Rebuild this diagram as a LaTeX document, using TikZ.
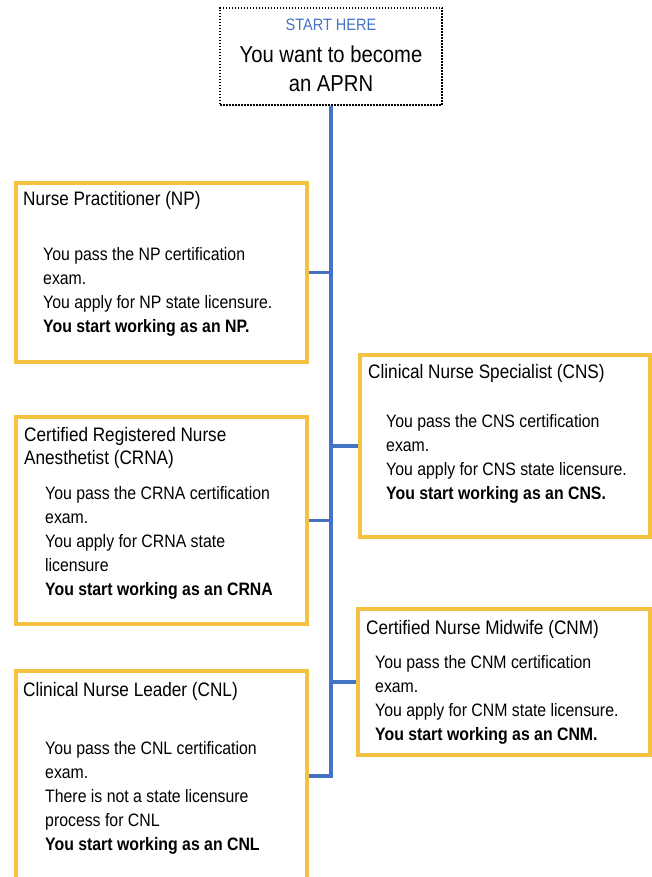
\documentclass[tikz,border=0pt]{standalone}
\usepackage{fontspec}
\setmainfont[FakeStretch=0.88]{Liberation Sans}
\usepackage{xcolor}
\definecolor{APRN-gul}{HTML}{F4C243}
\definecolor{APRN-blaa}{HTML}{4472C4}
\usetikzlibrary{positioning}

\tikzset{
  rolle/.style={draw=APRN-gul,line width=3.8pt,anchor=north west,minimum width=291pt,inner sep=0pt},
  startboks/.style={draw=black,dash pattern=on 1.5pt off 1.5pt,line width=1.4pt,minimum width=222pt,minimum height=97pt,inner sep=0pt},
  titel/.style={anchor=north west,align=left,inner sep=0pt,font=\fontsize{19.5}{23}\selectfont},
  trin/.style={anchor=north west,align=left,inner sep=0pt,font=\fontsize{18}{24}\selectfont},
  gren/.style={draw=APRN-blaa,line width=3.5pt}
}

\begin{document}
\begin{tikzpicture}[x=1pt,y=-1pt]
\useasboundingbox (0,0) rectangle (652,877);

\node[startboks] (start) at (331,56.5) {};
\node[align=center,inner sep=0pt,text=APRN-blaa,font=\fontsize{16.5}{18}\selectfont] (startHer) at (331,25) {START HERE};
\node[align=center,inner sep=0pt,font=\fontsize{23}{29}\selectfont] (startTekst) at (331,68.5) {You want to become\\ an APRN};

\node[rolle,minimum height=179pt] (np) at (14,181) {};
\node[rolle,minimum height=182pt,minimum width=290pt] (cns) at (358,353) {};
\node[rolle,minimum height=207pt] (crna) at (14,415) {};
\node[rolle,minimum height=146pt,minimum width=292pt] (cnm) at (356,607) {};
\node[rolle,minimum height=210pt] (cnl) at (14,669) {};

\node[titel] (npTitel) at (23,191) {Nurse Practitioner (NP)};
\node[trin] (npTrin) at (43,247) {You pass the NP certification\\ exam.\\ You apply for NP state licensure.\\ \textbf{You start working as an NP.}};

\node[titel] (cnsTitel) at (368,364) {Clinical Nurse Specialist (CNS)};
\node[trin] (cnsTrin) at (386,414) {You pass the CNS certification\\ exam.\\ You apply for CNS state licensure.\\ \textbf{You start working as an CNS.}};

\node[titel] (crnaTitel) at (24,427) {Certified Registered Nurse\\ Anesthetist (CRNA)};
\node[trin] (crnaTrin) at (45,486) {You pass the CRNA certification\\ exam.\\ You apply for CRNA state\\ licensure\\ \textbf{You start working as an CRNA}};

\node[titel] (cnmTitel) at (366,620) {Certified Nurse Midwife (CNM)};
\node[trin] (cnmTrin) at (375,655) {You pass the CNM certification\\ exam.\\ You apply for CNM state licensure.\\ \textbf{You start working as an CNM.}};

\node[titel] (cnlTitel) at (23,682) {Clinical Nurse Leader (CNL)};
\node[trin] (cnlTrin) at (45,741) {You pass the CNL certification\\ exam.\\ There is not a state licensure\\ process for CNL\\ \textbf{You start working as an CNL}};

\draw[gren] (start.south) -- (start.south |- cnl.east) -- (cnl.east);
\draw[gren] (np.east) -- (np.east -| start.south);
\draw[gren] (cns.west) -- (cns.west -| start.south);
\draw[gren] (crna.east) -- (crna.east -| start.south);
\draw[gren] (cnm.west) -- (cnm.west -| start.south);

\end{tikzpicture}
\end{document}
